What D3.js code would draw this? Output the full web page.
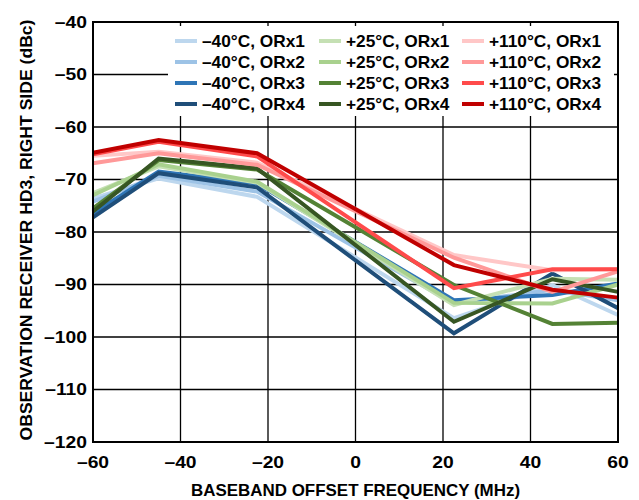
<!DOCTYPE html>
<html><head><meta charset="utf-8">
<script src="https://cdn.jsdelivr.net/npm/d3@7"></script>
<style>body{margin:0;background:#fff;} svg{display:block;font-family:"Liberation Sans",Arial,sans-serif;font-weight:bold;}</style>
</head><body>
<svg id="c" width="639" height="500"></svg>
<script>
const freqs = [-60, -45, -22.5, 22.5, 45, 60];
const seriesNames = ["\u201340\u00B0C, ORx1","\u201340\u00B0C, ORx2","\u201340\u00B0C, ORx3","\u201340\u00B0C, ORx4",
  "+25\u00B0C, ORx1","+25\u00B0C, ORx2","+25\u00B0C, ORx3","+25\u00B0C, ORx4",
  "+110\u00B0C, ORx1","+110\u00B0C, ORx2","+110\u00B0C, ORx3","+110\u00B0C, ORx4"];
const colors = ["#bdd7ee","#9dc3e6","#2e75b6","#1f4e79","#c5e0b4","#a9d18e","#548235","#375623","#ffc7c7","#ff9999","#ff4b4b","#c00000"];
const m40_1 = [-73.6, -69.8, -73.3, -96.4, -90.1, -95.8];
const m40_2 = [-74.2, -69.3, -72.3, -93.6, -91.0, -93.0];
const m40_3 = [-76.4, -68.5, -70.8, -93.0, -92.0, -89.8];
const m40_4 = [-77.2, -68.8, -71.5, -99.3, -87.9, -94.5];
const p25_1 = [-72.6, -67.5, -70.6, -93.9, -88.9, -89.1];
const p25_2 = [-73.0, -67.1, -70.4, -93.5, -93.6, -90.0];
const p25_3 = [-75.5, -66.3, -68.1, -90.1, -97.5, -97.3];
const p25_4 = [-76.1, -66.0, -67.9, -97.1, -89.0, -91.4];
const p110_1 = [-65.5, -64.7, -66.8, -84.4, -87.3, -87.1];
const p110_2 = [-66.9, -65.0, -67.2, -84.9, -91.4, -87.5];
const p110_3 = [-65.2, -62.8, -65.6, -90.7, -87.1, -87.1];
const p110_4 = [-64.9, -62.5, -65.0, -86.3, -91.0, -92.5];
const allSeries = [m40_1,m40_2,m40_3,m40_4,p25_1,p25_2,p25_3,p25_4,p110_1,p110_2,p110_3,p110_4];
const xTicks = [-60,-40,-20,0,20,40,60];
const yTicks = [-120,-110,-100,-90,-80,-70,-60,-50,-40];

const svg = d3.select("#c");
const m = {l:93, t:22, r:21, b:58};
const W = 639, H = 500;
const x = d3.scaleLinear().domain([-60,60]).range([m.l, W-m.r]);
const y = d3.scaleLinear().domain([-120,-40]).range([H-m.b, m.t]);
const fmt = d => String(d).replace("-", "\u2013");

// gridlines
svg.append("g").selectAll("line").data(xTicks).join("line")
  .attr("x1", d=>x(d)).attr("x2", d=>x(d)).attr("y1", y(-120)).attr("y2", y(-40))
  .attr("stroke","#000").attr("stroke-width",1.3);
svg.append("g").selectAll("line").data(yTicks).join("line")
  .attr("x1", x(-60)).attr("x2", x(60)).attr("y1", d=>y(d)).attr("y2", d=>y(d))
  .attr("stroke","#000").attr("stroke-width",1.3);

// lines
const line = d3.line().x((d,i)=>x(freqs[i])).y(d=>y(d));
svg.append("g").selectAll("path").data(allSeries).join("path")
  .attr("d", d=>line(d)).attr("fill","none")
  .attr("stroke",(d,i)=>colors[i]).attr("stroke-width",4).attr("stroke-linejoin","miter");

// legend box
svg.append("rect").attr("x",168).attr("y",26).attr("width",446).attr("height",90).attr("fill","#fff");
const colX = [175, 319, 462];
const rowY = [41, 62, 83, 104];
const lg = svg.append("g");
seriesNames.forEach((n,i)=>{
  const c = Math.floor(i/4), r = i%4;
  lg.append("line").attr("x1",colX[c]).attr("x2",colX[c]+22).attr("y1",rowY[r]).attr("y2",rowY[r])
    .attr("stroke",colors[i]).attr("stroke-width",4);
  lg.append("text").attr("transform",`translate(${colX[c]+27},${rowY[r]}) scale(1.08,1)`).attr("dy","0.36em")
    .attr("font-size",16).text(n);
});

// frame
svg.append("rect").attr("x",x(-60)).attr("y",y(-40)).attr("width",x(60)-x(-60)).attr("height",y(-120)-y(-40))
  .attr("fill","none").attr("stroke","#000").attr("stroke-width",2);

// tick labels
svg.append("g").selectAll("text").data(yTicks).join("text")
  .attr("transform", d=>`translate(${x(-60)-6},${y(d)}) scale(1.17,1)`).attr("dy","0.36em").attr("text-anchor","end")
  .attr("font-size",16.5).text(fmt);
svg.append("g").selectAll("text").data(xTicks).join("text")
  .attr("transform", d=>`translate(${x(d)},${y(-120)+26}) scale(1.17,1)`).attr("text-anchor","middle")
  .attr("font-size",16.5).text(fmt);

// axis titles
svg.append("text").attr("transform",`translate(${(x(-60)+x(60))/2},496) scale(1.06,1)`).attr("text-anchor","middle")
  .attr("font-size",16).text("BASEBAND OFFSET FREQUENCY (MHz)");
svg.append("text").attr("transform",`translate(32,${(y(-40)+y(-120))/2 - 2}) rotate(-90) scale(1.1,1)`)
  .attr("text-anchor","middle").attr("font-size",16).text("OBSERVATION RECEIVER HD3, RIGHT SIDE (dBc)");
</script>
</body></html>
